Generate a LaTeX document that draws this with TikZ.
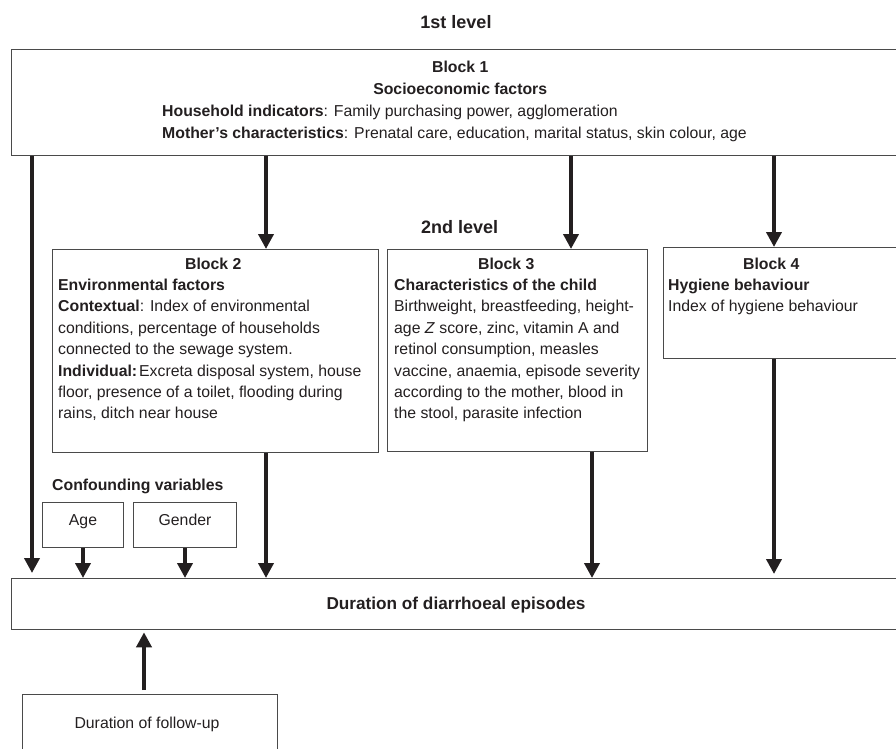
\documentclass[tikz,border=0pt]{standalone}
\usepackage{fontspec}
\setmainfont{Liberation Sans}
\usetikzlibrary{arrows.meta}
\definecolor{ink}{HTML}{231F20}
\definecolor{edge}{HTML}{4A4A4A}
\begin{document}
\begin{tikzpicture}[x=1pt,y=-1pt,
  box/.style={draw=edge, line width=1.3pt, inner sep=0pt, anchor=north west},
  txt/.style={inner sep=0pt, anchor=north west, align=left, text=ink,
              font=\fontsize{15.8}{21.4}\selectfont},
  lbl/.style={inner sep=0pt, text=ink, font=\fontsize{15.8}{19}\selectfont},
  head/.style={inner sep=0pt, text=ink, font=\fontsize{18}{21}\selectfont\bfseries},
  arr/.style={draw=ink, line width=4.5pt, -{Triangle[width=15pt,length=15pt]}},
]
\useasboundingbox (0,0) rectangle (896,748);

% titles
\node[head] (lvl1) at (456,22) {1st level};
\node[head, anchor=west] (lvl2) at (421,227) {2nd level};

% Block 1
\node[box, minimum width=900pt, minimum height=106pt] (b1) at (11,49) {};
\node[txt, font=\fontsize{15.8}{21.7}\selectfont] (b1t) at (162,61.3)
  {\makebox[596pt]{\bfseries Block 1}\\
   \makebox[596pt]{\bfseries Socioeconomic factors}\\
   \textbf{Household indicators}: Family purchasing power, agglomeration\\
   \textbf{Mother’s characteristics}: Prenatal care, education, marital status, skin colour, age};

% Block 2
\node[box, minimum width=326pt, minimum height=203pt] (b2) at (52,249) {};
\node[txt] (b2t) at (58,257.5)
  {\makebox[310pt]{\bfseries Block 2}\\
   \textbf{Environmental factors}\\
   \textbf{Contextual}: Index of environmental\\
   conditions, percentage of households\\
   connected to the sewage system.\\
   \textbf{Individual:}\hspace{2pt}Excreta disposal system, house\\
   floor, presence of a toilet, flooding during\\
   rains, ditch near house};

% Block 3
\node[box, minimum width=260pt, minimum height=202pt] (b3) at (387,249) {};
\node[txt] (b3t) at (394,257.5)
  {\makebox[224pt]{\bfseries Block 3}\\
   \textbf{Characteristics of the child}\\
   Birthweight, breastfeeding, height-\\
   age \textit{Z} score, zinc, vitamin A and\\
   retinol consumption, measles\\
   vaccine, anaemia, episode severity\\
   according to the mother, blood in\\
   the stool, parasite infection};

% Block 4
\node[box, minimum width=250pt, minimum height=111pt] (b4) at (663,247) {};
\node[txt] (b4t) at (668,257.5)
  {\makebox[206pt]{\bfseries Block 4}\\
   \textbf{Hygiene behaviour}\\
   Index of hygiene behaviour};

% Confounders
\node[lbl, font=\fontsize{15.8}{19}\selectfont\bfseries, anchor=base west] (conf) at (52,490.7) {Confounding variables};
\node[box, minimum width=81pt, minimum height=45pt] (age) at (42,502) {};
\node[lbl, anchor=base] (aget) at (83,525.7) {Age};
\node[box, minimum width=103pt, minimum height=45pt] (gen) at (133,502) {};
\node[lbl, anchor=base] (gent) at (185,525.7) {Gender};

% Outcome
\node[box, minimum width=900pt, minimum height=51pt] (dur) at (11,578) {};
\node[lbl, font=\fontsize{17.2}{20}\selectfont\bfseries, anchor=base] (durt) at (456,609.2) {Duration of diarrhoeal episodes};

% Follow-up
\node[box, minimum width=255pt, minimum height=70pt] (fu) at (22,694) {};
\node[lbl, anchor=base] (fut) at (147,728.7) {Duration of follow-up};

% arrow columns
\coordinate (xa) at (32,0);
\coordinate (xb) at (266,0);
\coordinate (xc) at (571,0);
\coordinate (xd) at (774,0);
\coordinate (xe) at (592,0);
\coordinate (xg) at (83,0);
\coordinate (xh) at (185,0);
\coordinate (xf) at (144,0);

\draw[arr, shorten >=5pt] (b1.south -| xa) -- (dur.north -| xa);
\draw[arr] (b1.south -| xb) -- (b2.north -| xb);
\draw[arr] (b1.south -| xc) -- (b3.north -| xc);
\draw[arr] (b1.south -| xd) -- (b4.north -| xd);
\draw[arr] (b2.south -| xb) -- (dur.north -| xb);
\draw[arr] (b3.south -| xe) -- (dur.north -| xe);
\draw[arr, shorten >=4pt] (b4.south -| xd) -- (dur.north -| xd);
\draw[arr] (age.south -| xg) -- (dur.north -| xg);
\draw[arr] (gen.south -| xh) -- (dur.north -| xh);
\draw[arr, shorten <=4pt, shorten >=2pt] (fu.north -| xf) -- (dur.south -| xf);
\end{tikzpicture}
\end{document}
